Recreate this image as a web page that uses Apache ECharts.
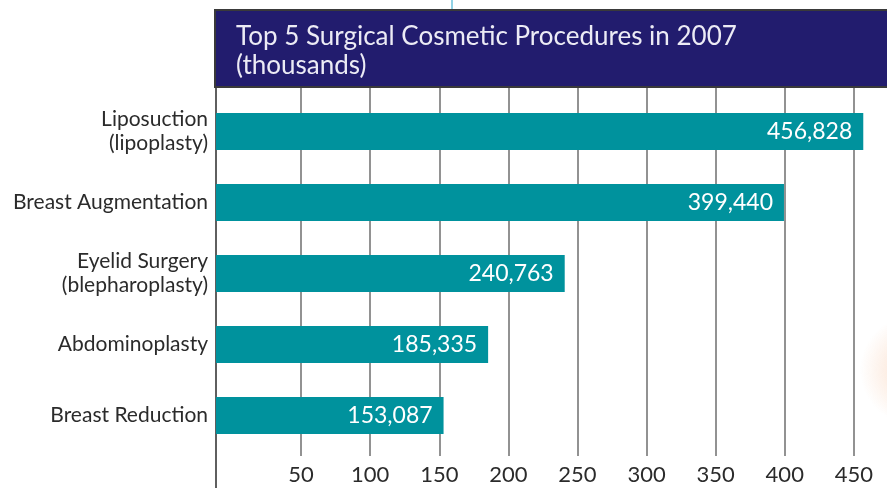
<!DOCTYPE html>
<html>
<head>
<meta charset="utf-8">
<title>Top 5 Surgical Cosmetic Procedures in 2007</title>
<script src="https://cdn.jsdelivr.net/npm/echarts@6/dist/echarts.min.js"></script>
<style>
    html, body {
        margin: 0;
        padding: 0;
        background: #fff;
    }
    #chart {
        width: 887px;
        height: 488px;
    }
</style>
</head>
<body>
<div id="chart"></div>
<script>
// data
const categories = ['Liposuction\n(lipoplasty)', 'Breast Augmentation', 'Eyelid Surgery\n(blepharoplasty)', 'Abdominoplasty', 'Breast Reduction']
const procedures = [456828, 399440, 240763, 185335, 153087]
const tickValues = [50, 100, 150, 200, 250, 300, 350, 400, 450]
const titleText = 'Top 5 Surgical Cosmetic Procedures in 2007\n(thousands)'

// axis range in thousands (the axis line sits a little left of zero)
const xMin = -11.6
const xMax = 474
const barColor = '#00929d'
const textColor = '#2b2b2b'
const font = 'Lato, "Open Sans", sans-serif'

const chart = echarts.init(document.getElementById('chart'), null, { renderer: 'canvas' })

const option = {
    animation: false,
    title: {
        text: titleText,
        left: 236,
        top: 22,
        padding: 0,
        textStyle: {
            color: '#ecebf5',
            fontFamily: font,
            fontSize: 26,
            fontWeight: 'normal',
            lineHeight: 29,
        },
        z: 10,
    },
    graphic: [
        {
            // title box
            type: 'rect',
            shape: { x: 215, y: 10, width: 690, height: 77 },
            style: { fill: '#221c6e', stroke: '#3a3a3a', lineWidth: 2 },
            z: 5,
        },
        {
            type: 'line',
            shape: { x1: 452, y1: 0, x2: 452, y2: 10 },
            style: { stroke: '#6cc3dc', lineWidth: 1.5 },
        },
        {
            // faint orange glow on the right edge
            type: 'circle',
            shape: { cx: 915, cy: 370, r: 55 },
            style: {
                fill: new echarts.graphic.RadialGradient(0.5, 0.5, 0.5, [
                    { offset: 0, color: 'rgba(243, 170, 120, 0.4)' },
                    { offset: 1, color: 'rgba(243, 170, 120, 0)' },
                ]),
            },
            silent: true,
        },
    ],
    grid: [
        // bars
        { left: 216, right: 0, top: 96, bottom: 37 },
        // grid lines and tick labels
        { left: 216, right: 0, top: 88, bottom: 32 },
        // left axis line down to the bottom
        { left: 216, right: 0, top: 88, bottom: 0 },
    ],
    xAxis: [
        {
            gridIndex: 0,
            type: 'value',
            min: xMin,
            max: xMax,
            show: false,
        },
        {
            gridIndex: 1,
            type: 'value',
            min: xMin,
            max: xMax,
            axisLine: { show: false },
            axisTick: { show: false, customValues: tickValues },
            axisLabel: {
                customValues: tickValues,
                color: textColor,
                fontFamily: font,
                fontSize: 22,
                margin: 8,
            },
            splitLine: {
                show: true,
                lineStyle: { color: '#6e6e6e', width: 1.5 },
            },
        },
        {
            gridIndex: 2,
            type: 'value',
            min: xMin,
            max: xMax,
            show: false,
        },
    ],
    yAxis: [
        {
            gridIndex: 0,
            type: 'category',
            data: categories,
            inverse: true,
            axisLine: { show: false },
            axisTick: { show: false },
            axisLabel: {
                color: textColor,
                fontFamily: font,
                fontSize: 21,
                lineHeight: 24,
                margin: 8,
                align: 'right',
            },
        },
        {
            gridIndex: 1,
            type: 'value',
            min: 0,
            max: 1,
            show: false,
        },
        {
            gridIndex: 2,
            type: 'value',
            min: 0,
            max: 1,
            axisLine: { show: true, onZero: false, lineStyle: { color: '#2a2a2a', width: 1.5 } },
            axisTick: { show: false },
            axisLabel: { show: false },
            splitLine: { show: false },
        },
    ],
    series: [
        {
            type: 'custom',
            xAxisIndex: 0,
            yAxisIndex: 0,
            encode: { x: 0, y: 1 },
            data: procedures.map((v, i) => [v / 1000, i, v]),
            renderItem: function (params, api) {
                const start = api.coord([xMin, api.value(1)])
                const end = api.coord([api.value(0), api.value(1)])
                const h = api.size([0, 1])[1] * 0.52
                return {
                    type: 'group',
                    children: [
                        {
                            type: 'rect',
                            shape: { x: start[0], y: start[1] - h / 2, width: end[0] - start[0], height: h },
                            style: { fill: barColor },
                        },
                        {
                            type: 'text',
                            x: end[0] - 11,
                            y: end[1],
                            style: {
                                text: api.value(2).toLocaleString('en-US'),
                                fill: '#fff',
                                font: '23px ' + font,
                                align: 'right',
                                verticalAlign: 'middle',
                            },
                        },
                    ],
                }
            },
            z: 3,
        },
    ],
}

chart.setOption(option)
window.addEventListener('resize', () => {
    chart.resize()
})
</script>
</body>
</html>
